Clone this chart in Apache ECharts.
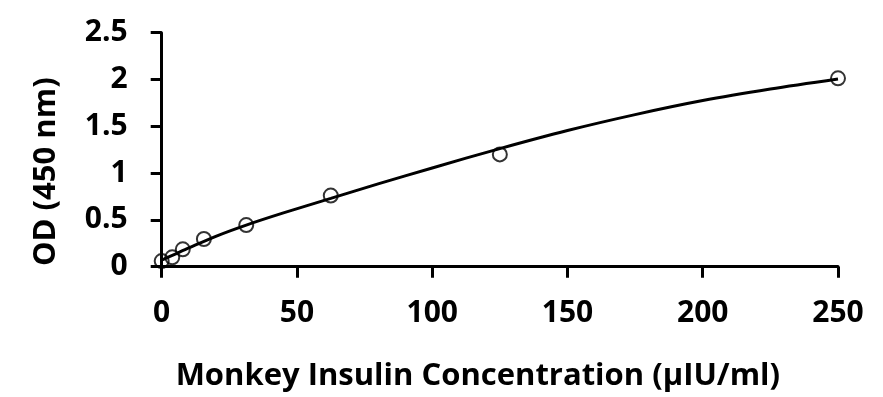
<!DOCTYPE html>
<html>
<head>
<meta charset="utf-8">
<script src="https://cdn.jsdelivr.net/npm/echarts@6/dist/echarts.min.js"></script>
<style>
  html, body { margin: 0; padding: 0; background: #fff; }
  #chart { width: 883px; height: 397px; }
</style>
</head>
<body>
<div id="chart"></div>
<script>
// standard points (concentration, OD)
var stdConc = [0, 3.9, 7.8, 15.6, 31.25, 62.5, 125, 250];
var stdOD = [0.06, 0.10, 0.186, 0.296, 0.445, 0.76, 1.20, 2.013];

// fitted curve
var fitConc = [0, 5, 10, 20, 31.25, 45, 62.5, 80, 100, 125, 150, 175, 200, 225, 250];
var fitOD = [0.07, 0.135, 0.20, 0.325, 0.445, 0.575, 0.73, 0.885, 1.055, 1.262, 1.455, 1.625, 1.775, 1.898, 2.005];

var xTitle = 'Monkey Insulin Concentration (µIU/ml)';
var yTitle = 'OD (450 nm)';

function pairs(xs, ys) {
    var out = [];
    for (var i = 0; i < xs.length; i++) {
        out.push([xs[i], ys[i]]);
    }
    return out;
}

var font = 'Open Sans';
var fs = 30;   // tick labels
var ts = 31;   // axis titles

var chart = echarts.init(document.getElementById('chart'));

chart.setOption({
    animation: false,
    grid: { left: 161.7, right: 45, top: 32.7, bottom: 130.3 },
    xAxis: {
        type: 'value',
        min: 0, max: 250, interval: 50,
        name: xTitle,
        nameLocation: 'middle',
        nameGap: 94,
        nameTextStyle: { color: '#000', fontFamily: font, fontWeight: 'bold', fontSize: ts, padding: [0, 44, 0, 0] },
        axisLine: { show: true, lineStyle: { color: '#000', width: 3 } },
        axisTick: { show: true, length: 11, lineStyle: { color: '#000', width: 3 } },
        axisLabel: { color: '#000', fontFamily: font, fontWeight: 'bold', fontSize: fs, margin: 32 },
        splitLine: { show: false }
    },
    yAxis: {
        type: 'value',
        min: 0, max: 2.5, interval: 0.5,
        name: yTitle,
        nameLocation: 'middle',
        nameGap: 100,
        nameTextStyle: { color: '#000', fontFamily: font, fontWeight: 'bold', fontSize: ts, padding: [0, 44, 0, 0] },
        axisLine: { show: true, lineStyle: { color: '#000', width: 3 } },
        axisTick: { show: true, length: 11, lineStyle: { color: '#000', width: 3 } },
        axisLabel: { color: '#000', fontFamily: font, fontWeight: 'bold', fontSize: fs, margin: 34 },
        splitLine: { show: false }
    },
    series: [
        {
            type: 'line',
            data: pairs(fitConc, fitOD),
            smooth: 0.3,
            symbol: 'none',
            lineStyle: { color: '#000', width: 3 },
            z: 2
        },
        {
            type: 'scatter',
            data: pairs(stdConc, stdOD),
            symbol: 'circle',
            symbolSize: 14,
            itemStyle: { color: 'rgba(0,0,0,0)', borderColor: '#000', borderWidth: 2 },
            z: 3
        }
    ]
});
</script>
</body>
</html>
